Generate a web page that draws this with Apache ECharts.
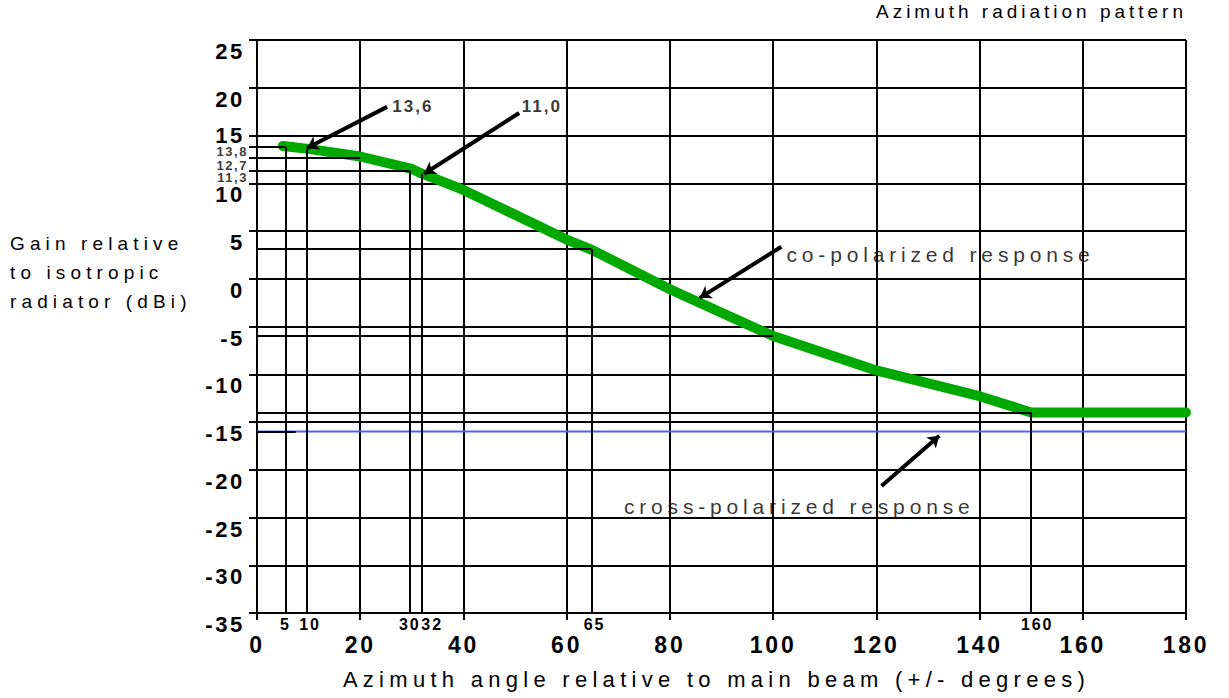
<!DOCTYPE html>
<html>
<head>
<meta charset="utf-8">
<script src="https://cdn.jsdelivr.net/npm/echarts@6/dist/echarts.min.js"></script>
<style>
  html, body { margin: 0; padding: 0; background: #fff; }
  #chart { width: 1229px; height: 698px; }
</style>
</head>
<body>
<div id="chart"></div>
<script>
// ---- data ----
const coAngles = [5, 10, 20, 30, 32, 40, 60, 65, 80, 100, 120, 140, 150, 180];
const coGains  = [13.9, 13.6, 12.8, 11.5, 11.0, 9.3, 4.1, 3.0, -1.1, -6.0, -9.6, -12.3, -14.0, -14.0];
const crossAngles = [0, 180];
const crossGains  = [-16, -16];

const markAngles      = [5.5, 9.7, 29.6, 32, 64.8, 150];
const markAngleLabels = ['5', '10', '30', '32', '65', '160'];
const markAngleTops   = [13.8, 13.6, 11.3, 11.0, 3.1, -14.0];

const gainMarks      = [13.8, 12.7, 11.3];
const gainMarkLabels = ['13,8', '12,7', '11,3'];

const levelGains = [13.8, 12.7, 11.3, 3.1, -6.0, -14.0, -16.0];
const levelEnds  = [5.5, 20, 29.6, 64.8, 100, 150, 7.5];

const arrowFrom = [[25.2, 18.0], [50.8, 17.35], [101.6, 3.35], [121.0, -21.7]];
const arrowTo   = [[9.7, 13.7], [32.4, 11.0], [85.8, -2.0], [132.2, -16.45]];

const noteTexts = ['13,6', '11,0', 'co-polarized response', 'cross-polarized response'];
const notePos   = [[26.2, 18.0], [51.3, 18.0], [102.6, 2.5], [71.1, -23.9]];

const xMin = 0, xMax = 180, xStep = 20;
const yMin = -35, yMax = 25, yStep = 5;

const titleText = 'Azimuth radiation pattern';
const xName = 'Azimuth angle relative to main beam (+/- degrees)';
const yNameLines = ['Gain relative', 'to isotropic', 'radiator (dBi)'];

// ---- build options ----
const FONT = 'Liberation Sans, Arial, sans-serif';
const coData = coAngles.map((a, i) => [a, coGains[i]]);
const crossData = crossAngles.map((a, i) => [a, crossGains[i]]);

const refLines = [];
markAngles.forEach((a, i) => refLines.push({ coords: [[a, yMin], [a, markAngleTops[i]]] }));
levelGains.forEach((g, i) => refLines.push({ coords: [[xMin, g], [levelEnds[i], g]] }));

const arrows = arrowFrom.map((f, i) => ({ coords: [f, arrowTo[i]] }));

const labelMap = {};
markAngles.forEach((a, i) => { labelMap[a] = markAngleLabels[i]; });

const smallX = { fontFamily: FONT, fontSize: 16, fontWeight: 'bold', color: '#000' };
const bigY = { fontFamily: FONT, fontSize: 22, fontWeight: 'bold', color: '#000', lineHeight: 22 };
const gainLabelShift = [5, 8, 7];

const chart = echarts.init(document.getElementById('chart'), null, { renderer: 'svg' });
const option = {
  animation: false,
  backgroundColor: '#ffffff',
  textStyle: { fontFamily: FONT, color: '#000' },
  title: [{
    text: titleText,
    left: 876, top: 2, padding: 0,
    textStyle: { fontFamily: FONT, fontSize: 19, fontWeight: 'normal', color: '#000' }
  }, {
    text: yNameLines.join('\n'),
    left: 10, top: 229, padding: 0,
    textStyle: { fontFamily: FONT, fontSize: 19, fontWeight: 'normal', color: '#000', lineHeight: 29 }
  }],
  grid: { left: 257, right: 43, top: 40, bottom: 85, containLabel: false, outerBoundsMode: 'none' },
  xAxis: [{
    type: 'value', min: xMin, max: xMax, interval: xStep,
    position: 'bottom',
    name: xName,
    nameLocation: 'middle', nameGap: 55,
    nameTextStyle: { fontFamily: FONT, fontSize: 22, color: '#000', padding: [0, 10, 0, 0] },
    axisLine: { show: true, onZero: false, lineStyle: { color: '#000', width: 2 } },
    axisTick: { show: true, inside: false, length: 7, lineStyle: { color: '#000', width: 2 } },
    splitLine: { show: true, lineStyle: { color: '#000', width: 2 } },
    axisLabel: { fontFamily: FONT, fontSize: 23, fontWeight: 'bold', color: '#000', margin: 20 }
  }, {
    type: 'value', min: xMin, max: xMax,
    position: 'bottom',
    axisLine: { show: false, onZero: false },
    axisTick: { show: false },
    splitLine: { show: false },
    axisLabel: {
      customValues: markAngles,
      showMinLabel: true, showMaxLabel: true, hideOverlap: false,
      ...smallX, margin: 3,
      formatter: v => {
        const t = labelMap[v] || '';
        if (t === '32') return '{r20|' + t + '}';
        if (t === '160') return '{r12|' + t + '}';
        if (t === '65' || t === '10') return '{r6|' + t + '}';
        return t;
      },
      rich: {
        r20: { ...smallX, padding: [0, 0, 0, 20] },
        r12: { ...smallX, padding: [0, 0, 0, 12] },
        r6:  { ...smallX, padding: [0, 0, 0, 6] }
      }
    }
  }],
  yAxis: [{
    type: 'value', min: yMin, max: yMax, interval: yStep,
    position: 'left',
    axisLine: { show: true, onZero: false, lineStyle: { color: '#000', width: 2 } },
    axisTick: { show: true, inside: false, length: 8, lineStyle: { color: '#000', width: 2 } },
    splitLine: { show: true, lineStyle: { color: '#000', width: 2 } },
    axisLabel: {
      ...bigY, margin: 12, verticalAlign: 'middle',
      formatter: v => (v === 15 ? '{up|' + v + '}' : '{dn|' + v + '}'),
      rich: {
        dn: { ...bigY, padding: [23, 0, 0, 0] },
        up: { ...bigY, padding: [0, 0, 0, 0] }
      }
    }
  }, {
    type: 'value', min: yMin, max: yMax,
    position: 'left',
    axisLine: { show: false, onZero: false },
    axisTick: { show: true, inside: false, length: 8, customValues: gainMarks, lineStyle: { color: '#000', width: 2 } },
    splitLine: { show: false },
    axisLabel: { show: false }
  }],
  series: [{
    name: 'cross-polarized', type: 'line', data: crossData,
    symbol: 'none', z: 3,
    lineStyle: { color: '#5a5aff', width: 2 }
  }, {
    name: 'co-polarized', type: 'line', data: coData,
    symbol: 'none', z: 4,
    lineStyle: { color: '#00a800', width: 10, cap: 'round', join: 'round' }
  }, {
    name: 'reference lines', type: 'lines', coordinateSystem: 'cartesian2d',
    z: 5, symbol: 'none',
    lineStyle: { color: '#000', width: 2, opacity: 1 },
    data: refLines
  }, {
    name: 'arrows', type: 'lines', coordinateSystem: 'cartesian2d',
    z: 6, symbol: ['none', 'arrow'], symbolSize: 11,
    lineStyle: { color: '#000', width: 4, opacity: 1 },
    data: arrows
  }, {
    name: 'notes', type: 'scatter', symbolSize: 0, z: 7, clip: false,
    data: noteTexts.map((t, i) => ({
      value: notePos[i], name: t,
      label: i < 2
        ? { fontSize: 17, fontWeight: 'bold' }
        : { fontSize: 21, fontWeight: 'normal' }
    })),
    label: {
      show: true, position: 'right', distance: 0,
      formatter: p => p.name,
      fontFamily: FONT, color: '#000'
    }
  }, {
    name: 'gain marks', type: 'scatter', symbolSize: 0, z: 7, clip: false,
    data: gainMarks.map((g, i) => ({
      value: [xMin, g], name: gainMarkLabels[i],
      label: { offset: [0, gainLabelShift[i]] }
    })),
    label: {
      show: true, position: 'left', distance: 9,
      formatter: p => p.name,
      fontFamily: FONT, fontSize: 13, fontWeight: 'bold', color: '#000'
    }
  }]
};
chart.setOption(option);

// letter spacing, as in the reference typesetting
function spaceText() {
  const texts = document.querySelectorAll('#chart svg text');
  texts.forEach(el => {
    const s = (el.textContent || '').trim();
    const fs = parseFloat(getComputedStyle(el).fontSize) || 16;
    let f;
    if (/^-?[\d,]+$/.test(s)) f = 0.12;
    else if (s === titleText) f = 0.21;
    else if (yNameLines.indexOf(s) >= 0) f = 0.27;
    else if (s === xName) f = 0.24;
    else f = 0.23;
    el.setAttribute('letter-spacing', (fs * f).toFixed(2) + 'px');
  });
}
spaceText();
chart.on('finished', spaceText);
</script>
</body>
</html>
